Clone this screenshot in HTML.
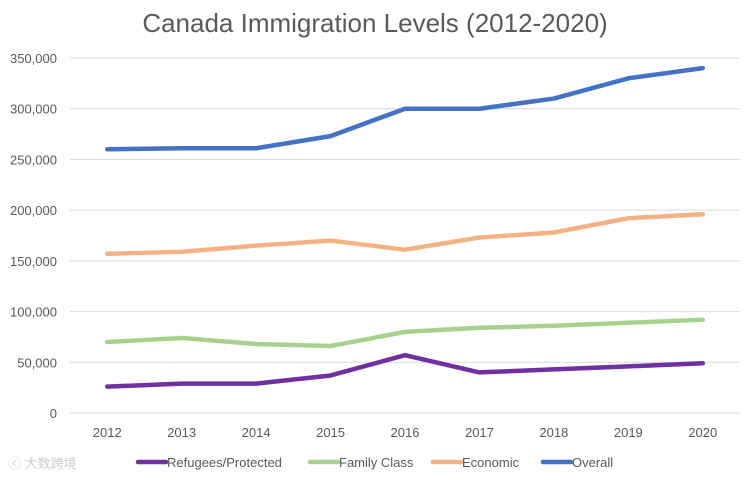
<!DOCTYPE html>
<html><head><meta charset="utf-8"><style>
body{margin:0;background:#fff;}
svg{display:block;font-family:"Liberation Sans","Noto Sans CJK SC",sans-serif;}
</style></head><body>
<svg id="chart" width="750" height="478">
<text x="375" y="32" text-anchor="middle" font-size="26" fill="#595959">Canada Immigration Levels (2012-2020)</text>
<g id="grid"></g><g id="ylab"></g><g id="xlab"></g><g id="lines"></g>
<g id="legend"></g>
<text x="8" y="468" font-size="13" fill="#ccc">ⓒ 大数跨境</text>
</svg>
<script>
const years=["2012","2013","2014","2015","2016","2017","2018","2019","2020"];
const refugees=[26000,29000,29000,37000,57000,40000,43000,46000,49000];
const family=[70000,74000,68000,66000,80000,84000,86000,89000,92000];
const economic=[157000,159000,165000,170000,161000,173000,178000,192000,196000];
const overall=[260000,261000,261000,273000,300000,300000,310000,330000,340000];
const yTicks=[0,50000,100000,150000,200000,250000,300000,350000];
const yTickLabels=["0","50,000","100,000","150,000","200,000","250,000","300,000","350,000"];
const NS="http://www.w3.org/2000/svg";
const y0=413,yTop=58,xL=70,xR=740;
const yS=v=>y0-(v/350000)*(y0-yTop);
const step=(xR-xL)/years.length;
const xS=i=>xL+step*(i+0.5);
function mk(t,a,p){const e=document.createElementNS(NS,t);for(const k in a)e.setAttribute(k,a[k]);p.appendChild(e);return e;}
const g=document.getElementById('grid'),yl=document.getElementById('ylab'),xl=document.getElementById('xlab'),ln=document.getElementById('lines'),lg=document.getElementById('legend');
yTicks.forEach((v,i)=>{
 const l=mk('line',{x1:xL,x2:xR,y1:yS(v),y2:yS(v),stroke:'#d9d9d9','stroke-width':1},g);
 
 
 const t=mk('text',{x:57,y:yS(v)+5,'text-anchor':'end','font-size':13,fill:'#595959'},yl);
 t.textContent=yTickLabels[i];
 
 
});
years.forEach((y,i)=>{
 const t=mk('text',{x:xS(i),y:437,'text-anchor':'middle','font-size':13,fill:'#595959'},xl);
 t.textContent=y;
 
 
});
const series=[["Refugees/Protected",refugees,"#7030a0","refugees-line"],["Family Class",family,"#a9d18e","family-line"],["Economic",economic,"#f4b183","economic-line"],["Overall",overall,"#4472c4","overall-line"]];
series.forEach(s=>{
 const p=mk('polyline',{points:s[1].map((v,i)=>xS(i)+','+yS(v)).join(' '),fill:'none',stroke:s[2],'stroke-width':4.5,'stroke-linecap':'round','stroke-linejoin':'round'},ln);
 
 
});
const lx=[138,310,433,543];
series.forEach((s,i)=>{
 const l=mk('line',{x1:lx[i],x2:lx[i]+28,y1:462,y2:462,stroke:s[2],'stroke-width':4.5,'stroke-linecap':'round'},lg);
 
 
 const t=mk('text',{x:lx[i]+29,y:467,'font-size':13,fill:'#595959'},lg);
 t.textContent=s[0];
 
 
});
</script>
</body></html>
